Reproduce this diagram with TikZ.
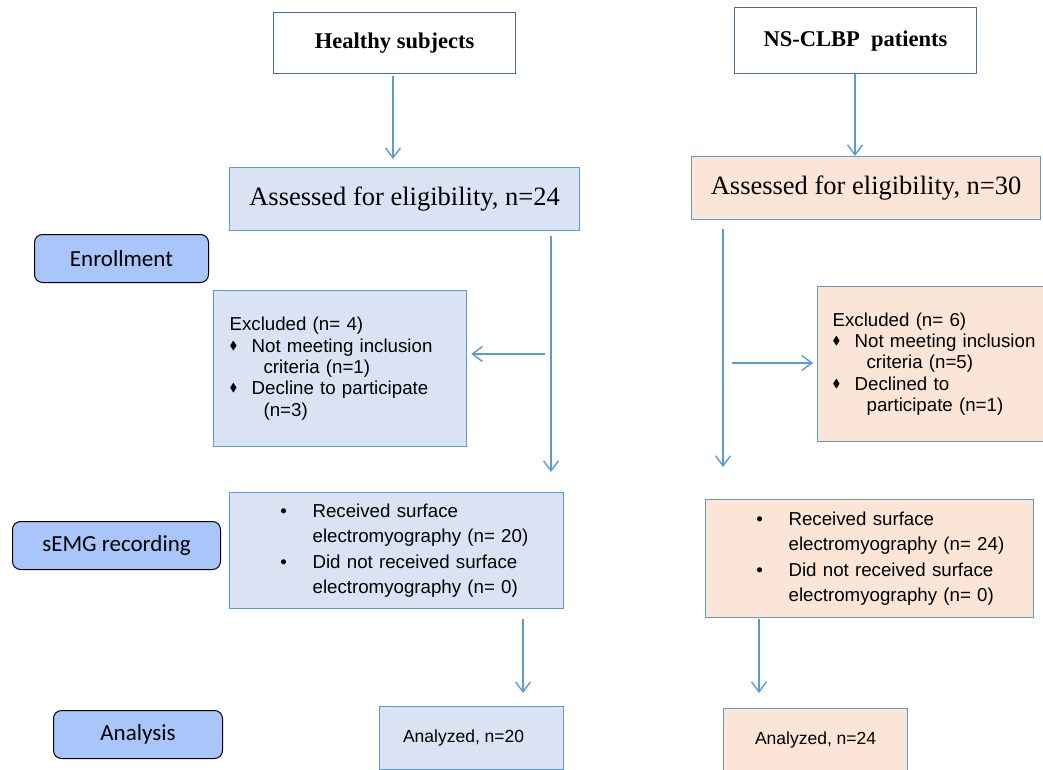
\documentclass[tikz,border=0pt]{standalone}
\usepackage{fontspec}
\setmainfont{Liberation Sans}
\newfontfamily\serifF{Liberation Serif}
\newfontfamily\calF{Carlito}
\usepackage{amssymb}
\usetikzlibrary{arrows.meta,calc}
\definecolor{bdr}{HTML}{5B9BD5}
\definecolor{topbdr}{HTML}{41719C}
\definecolor{bluef}{HTML}{DAE3F3}
\definecolor{orangef}{HTML}{FBE5D6}
\definecolor{sidef}{HTML}{A9C6FA}
\newcommand\dia{\makebox[0pt][c]{\raisebox{0.16em}{\scalebox{0.62}{$\blacklozenge$}}}}
\newcommand\ditem[1]{\makebox[22pt][l]{\hspace*{4pt}\dia}#1}
\newcommand\ccont[1]{\hspace*{34pt}#1}
\newcommand\ritem[1]{\hspace*{54pt}\makebox[0pt][c]{•}\hspace*{29pt}#1}
\newcommand\rcont[1]{\hspace*{83pt}#1}
\tikzset{
  topbox/.style={draw=topbdr, line width=1.2pt, fill=white, anchor=north west, inner sep=0pt,
    font=\serifF\bfseries\fontsize{22.5}{26}\selectfont},
  assbox/.style={draw=bdr, line width=1.2pt, anchor=north west, inner sep=0pt,
    font=\serifF\fontsize{26.5}{30}\selectfont},
  exbox/.style={draw=bdr, line width=1.2pt, anchor=north west, inner ysep=0pt,
    align=left, font=\fontsize{18.7}{21.3}\selectfont},
  recbox/.style={draw=bdr, line width=1.2pt, anchor=north west, inner sep=0pt,
    align=left, font=\fontsize{18.7}{25.5}\selectfont},
  anbox/.style={draw=bdr, line width=1.2pt, anchor=north west, inner sep=0pt,
    font=\fontsize{17.5}{21}\selectfont},
  sidebox/.style={draw=black, line width=1pt, fill=sidef, rounded corners=8pt, anchor=north west,
    inner sep=0pt, font=\calF\fontsize{23}{27}\selectfont},
  arr/.style={draw=bdr, line width=1.4pt, -{Straight Barb[length=10pt,width=15pt,line width=1.4pt]}}
}
\begin{document}
\begin{tikzpicture}[x=1pt,y=-1pt]
\clip (0,0) rectangle (1043,770);
\fill[white] (0,0) rectangle (1043,770);
% top
\node[topbox, minimum width=242pt, minimum height=61pt] (healthy) at (273,12) {Healthy subjects};
\node[topbox, minimum width=242pt, minimum height=66pt] (ns) at (734,7) {NS-CLBP\ \ patients};
% assessed
\node[assbox, fill=bluef, minimum width=350pt, minimum height=63pt] (assL) at (229,167) {Assessed for eligibility, n=24};
\node[assbox, fill=orangef, minimum width=349pt, minimum height=63pt] (assR) at (691,156) {Assessed for eligibility, n=30};
% sidebars
\node[sidebox, minimum width=174pt, minimum height=48pt] (enr) at (34,234) {Enrollment};
\node[sidebox, minimum width=208pt, minimum height=48pt] (semg) at (12,521) {sEMG recording};
\node[sidebox, minimum width=169pt, minimum height=48pt] (ana) at (53,710) {Analysis};
% excluded
\node[exbox, fill=bluef, inner xsep=16pt, text width=221pt, minimum height=156pt] (exL) at (213,290)
  {Excluded (n= 4)\\ \ditem{Not meeting inclusion}\\ \ccont{criteria (n=1)}\\ \ditem{Decline to participate}\\ \ccont{(n=3)}};
\node[exbox, fill=orangef, inner xsep=15pt, text width=223pt, minimum height=155pt] (exR) at (817,286)
  {Excluded (n= 6)\\ \ditem{Not meeting inclusion}\\ \ccont{criteria (n=5)}\\ \ditem{Declined to}\\ \ccont{participate (n=1)}};
% received
\node[recbox, fill=bluef, text width=334pt, minimum height=116pt] (recL) at (229,492)
  {\ritem{Received surface}\\ \rcont{electromyography (n= 20)}\\ \ritem{Did not received surface}\\ \rcont{electromyography (n= 0)}};
\node[recbox, fill=orangef, text width=328pt, minimum height=118pt] (recR) at (705,499)
  {\ritem{Received surface}\\ \rcont{electromyography (n= 24)}\\ \ritem{Did not received surface}\\ \rcont{electromyography (n= 0)}};
% analyzed
\node[anbox, fill=bluef, minimum width=184pt, minimum height=63pt] (anL) at (379,706) {Analyzed, n=20\hspace*{16pt}};
\node[anbox, fill=orangef, minimum width=184pt, minimum height=62pt] (anR) at (723,708) {Analyzed, n=24};
% connectors
\coordinate (tL) at (393,76);
\draw[arr, shorten >=8pt] (tL) -- (tL |- assL.north);
\coordinate (tR) at (855,74);
\draw[arr] (tR) -- (tR |- assR.north);
\coordinate (vL) at (551,236);
\draw[arr, shorten >=20pt] (vL) -- (vL |- recL.north);
\coordinate (hL) at (545,354);
\draw[arr, shorten >=4pt] (hL) -- (hL -| exL.east);
\coordinate (vR) at (723,229);
\draw[arr, shorten >=32pt] (vR) -- (vR |- recR.north);
\coordinate (hR) at (732,363);
\draw[arr, shorten >=4pt] (hR) -- (hR -| exR.west);
\coordinate (bL) at (523,619);
\draw[arr, shorten >=13pt] (bL) -- (bL |- anL.north);
\coordinate (bR) at (759,619);
\draw[arr, shorten >=15pt] (bR) -- (bR |- anR.north);
\end{tikzpicture}
\end{document}
